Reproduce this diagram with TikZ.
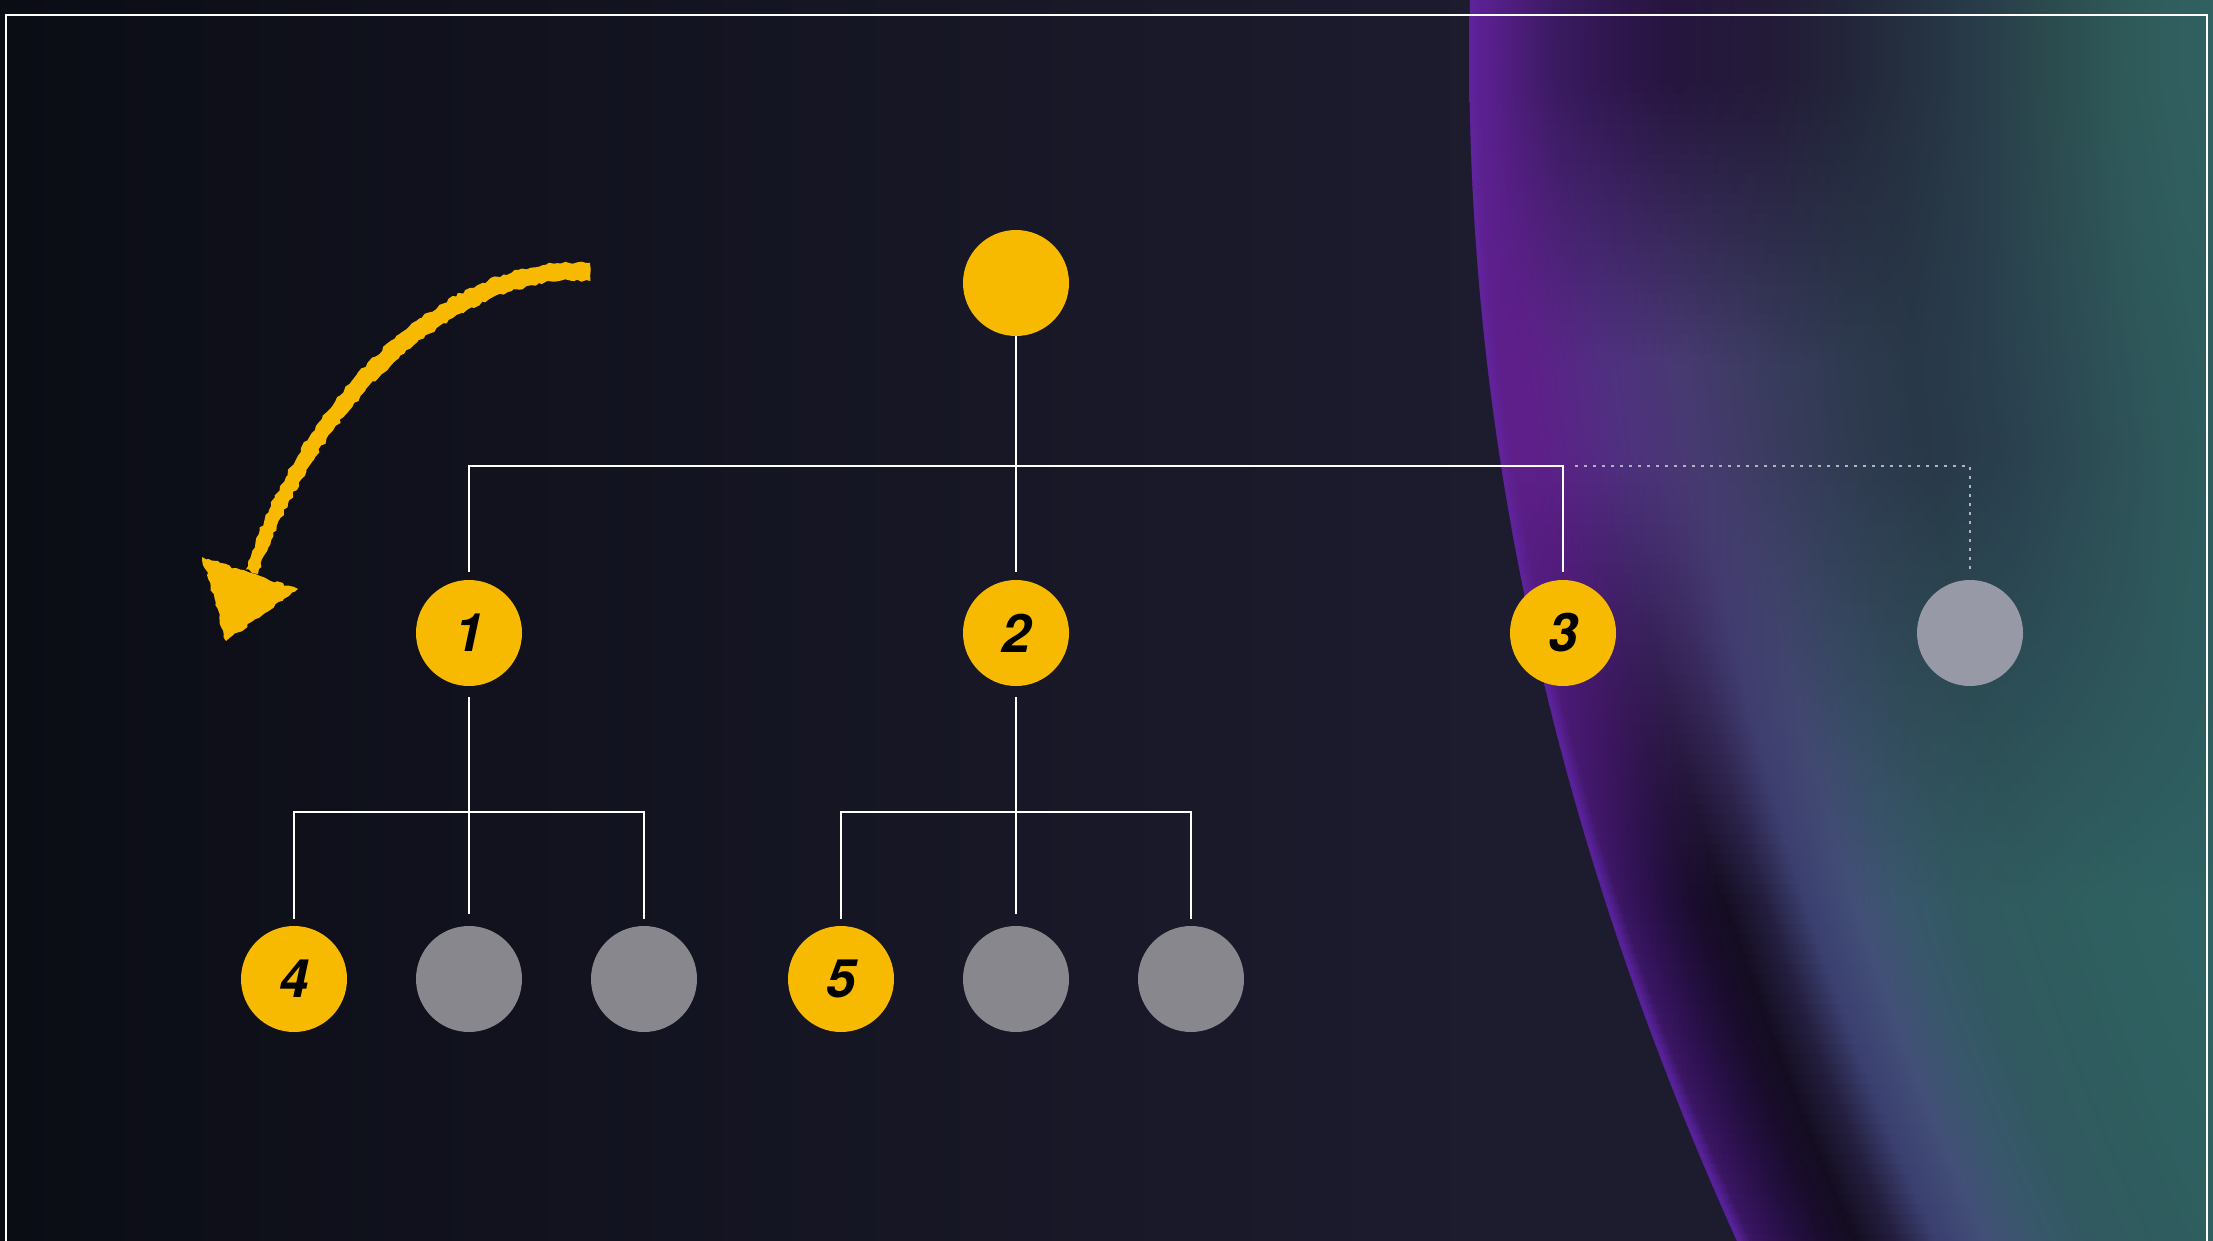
\documentclass[tikz,border=0pt]{standalone}
\usepackage{fontspec}
\setsansfont{TeX Gyre Heros}
\usetikzlibrary{decorations.pathmorphing}
\definecolor{bgA}{HTML}{0B0D15}
\definecolor{bgB}{HTML}{1D1C2F}
\definecolor{edgeglow}{HTML}{6428A8}
\definecolor{ylw}{HTML}{F7BA00}
\definecolor{gryA}{HTML}{88878D}
\definecolor{gryB}{HTML}{979AA6}
\definecolor{dotc}{HTML}{B2B4C0}
% drape profiles (top / middle / bottom), sampled at common offsets from the edge
\definecolor{t1}{HTML}{5A2090}\definecolor{t2}{HTML}{5A2090}\definecolor{t3}{HTML}{5A2090}
\definecolor{t4}{HTML}{511E82}\definecolor{t5}{HTML}{461C71}\definecolor{t6}{HTML}{391A5F}
\definecolor{t7}{HTML}{331855}\definecolor{t8}{HTML}{2C1649}\definecolor{t9}{HTML}{26153F}
\definecolor{t10}{HTML}{24183B}\definecolor{t11}{HTML}{231A38}\definecolor{t12}{HTML}{222339}
\definecolor{t13}{HTML}{242E3E}\definecolor{t14}{HTML}{283A48}\definecolor{t15}{HTML}{2B4B4E}
\definecolor{t16}{HTML}{2F5A5A}\definecolor{t17}{HTML}{326262}
\definecolor{m1}{HTML}{6A2A9A}\definecolor{m2}{HTML}{5E1F8A}\definecolor{m3}{HTML}{5E1F8A}
\definecolor{m4}{HTML}{5E1F8A}\definecolor{m5}{HTML}{5B2388}\definecolor{m6}{HTML}{552984}
\definecolor{m7}{HTML}{4F3080}\definecolor{m8}{HTML}{4B3578}\definecolor{m9}{HTML}{463A70}
\definecolor{m10}{HTML}{3E3B64}\definecolor{m11}{HTML}{363B5A}\definecolor{m12}{HTML}{2E3A4F}
\definecolor{m13}{HTML}{283848}\definecolor{m14}{HTML}{293E4D}\definecolor{m15}{HTML}{2C4A53}
\definecolor{m16}{HTML}{2E575A}\definecolor{m17}{HTML}{2F6060}
\definecolor{b1}{HTML}{5A22A8}\definecolor{b2}{HTML}{4E1D90}\definecolor{b3}{HTML}{3B1664}
\definecolor{b4}{HTML}{301254}\definecolor{b5}{HTML}{240F41}\definecolor{b6}{HTML}{190C2C}
\definecolor{b7}{HTML}{140D21}\definecolor{b8}{HTML}{231E3E}\definecolor{b9}{HTML}{3A3F6F}
\definecolor{b10}{HTML}{424F77}\definecolor{b11}{HTML}{38576B}\definecolor{b12}{HTML}{315960}
\definecolor{b13}{HTML}{2F5C5E}\definecolor{b14}{HTML}{2F6060}\definecolor{b15}{HTML}{2F6262}
\definecolor{b16}{HTML}{2F6262}\definecolor{b17}{HTML}{2F6262}
\begin{document}
\begin{tikzpicture}[x=1pt,y=-1pt,
  dot/.style={circle,minimum size=106pt,inner sep=0pt,draw=none},
  ynode/.style={dot,fill=ylw,text=black,font=\sffamily\bfseries\itshape\fontsize{53}{53}\selectfont},
  gnode/.style={dot,fill=gryA},
  wire/.style={draw=white,line width=2.4pt},
  dotline/.style={draw=dotc,line width=2.8pt,dash pattern=on 2.8pt off 6.2pt},
  chalkfill/.style={fill=ylw,decorate,decoration={random steps,segment length=4pt,amplitude=1.5pt}}]
\useasboundingbox (0,0) rectangle (2213,1241);
\clip (0,0) rectangle (2213,1241);
% background
\shade[left color=bgA,right color=bgB] (0,0) rectangle (1500,1241);
\fill[bgB] (1499,0) rectangle (2213,1241);
% coloured drape on the right
\begin{scope}
  \clip plot[variable=\t,domain=-20:1290,samples=70] ({1470-0.0223*\t+1.913*(\t/100)^2},\t)
    -- (2300,1290) -- (2300,-20) -- cycle;
  \foreach \yy in {-15,-5,...,1245} {
    \pgfmathsetmacro\ex{1470-0.0223*\yy+1.913*(\yy/100)^2}
    \pgfmathsetmacro\mixM{100*min(max((\yy-80)/280,0),1)}
    \pgfmathsetmacro\mixB{100-100*min(max((\yy-450)/450,0),1)}
    \xdef\specA{color(0bp)=(m1!\mixM!t1!\mixB!b1)}
    \foreach \i/\p in {1/25,2/25.97,3/26.94,4/28.23,5/29.84,6/31.78,7/33.71,8/36.29,
        9/38.87,10/42.1,11/45.32,12/49.19,13/53.71,14/58.22,15/63.38,16/68.54,17/75,17/100}
      {\xdef\specA{\specA; color(\p bp)=(m\i!\mixM!t\i!\mixB!b\i)}}
    \edef\tmpdecl{\noexpand\pgfdeclarehorizontalshading{strip\yy}{100bp}{\specA}}\tmpdecl
    \shade[shading=strip\yy] (\ex-15,\yy-0.6) rectangle (\ex+760,\yy+10.6);
  }
  \foreach \f/\o in {1/0.15,0.7/0.2,0.4/0.3}
    \draw[edgeglow,line width=\f*22pt,opacity=\o]
      plot[variable=\t,domain=-20:1290,samples=70] ({1470-0.0223*\t+1.913*(\t/100)^2},\t);
\end{scope}
% frame
\draw[white,line width=2.2pt] (6,1260) -- (6,15) -- (2207,15) -- (2207,1260);
% nodes
\node[ynode] (root) at (1016,283) {};
\node[ynode] (n1) at (469,633) {1};
\node[ynode] (n2) at (1016,633) {2};
\node[ynode] (n3) at (1563,633) {3};
\node[dot,fill=gryB] (n6) at (1970,633) {};
\node[ynode] (n4) at (294,979) {4};
\node[gnode] (g1) at (469,979) {};
\node[gnode] (g2) at (644,979) {};
\node[ynode] (n5) at (841,979) {5};
\node[gnode] (g3) at (1016,979) {};
\node[gnode] (g4) at (1191,979) {};
\coordinate (bus) at (1016,466);
\coordinate (busA) at (469,812);
\coordinate (busB) at (1016,812);
% connectors
\draw[wire,shorten >=8pt] (root.south) -- (n2.north);
\draw[wire,shorten <=8pt,shorten >=8pt] (n1.north) |- (bus) -| (n3.north);
\draw[dotline,shorten >=10pt] ([xshift=12pt]n3.north |- bus) -| (n6.north);
\draw[wire,shorten <=11pt,shorten >=12pt] (n1.south) -- (g1.north);
\draw[wire,shorten <=7pt,shorten >=7pt] (n4.north) |- (busA) -| (g2.north);
\draw[wire,shorten <=11pt,shorten >=12pt] (n2.south) -- (g3.north);
\draw[wire,shorten <=7pt,shorten >=7pt] (n5.north) |- (busB) -| (g4.north);
% hand-drawn chalk arrow (tapering stroke and head)
\pgfmathsetseed{7}
\fill[chalkfill] (590,263) .. controls (472,252) and (313,364) .. (246,569)
  -- (258,574) .. controls (329,376) and (479,271) .. (590,281) -- cycle;
\fill[chalkfill] (202,557) -- (298,589) -- (226,641) -- cycle;
\end{tikzpicture}
\end{document}
